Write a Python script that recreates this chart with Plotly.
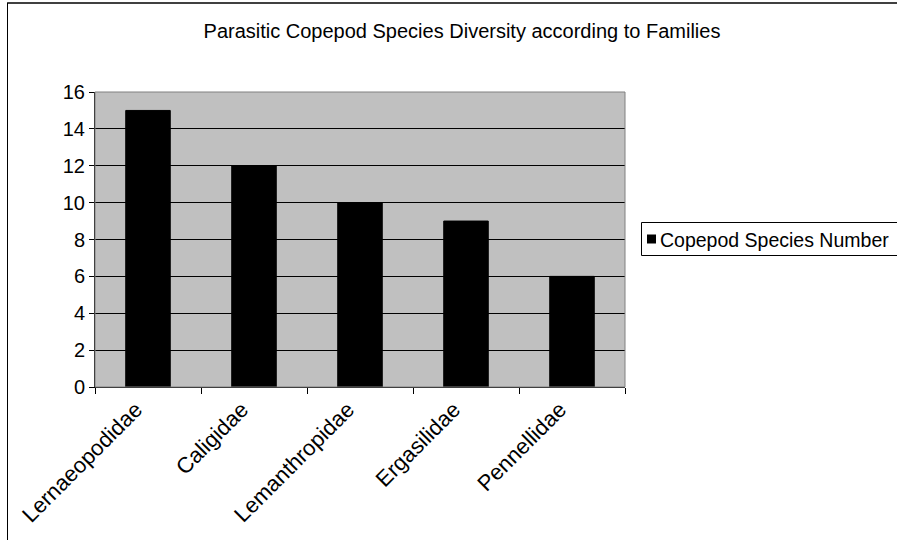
import plotly.graph_objects as go

families = ["Lernaeopodidae", "Caligidae", "Lemanthropidae", "Ergasilidae", "Pennellidae"]
species_counts = [15, 12, 10, 9, 6]
series_name = "Copepod Species Number"
title_text = "Parasitic Copepod Species Diversity according to Families"

W, H = 897, 540
L, R, T, B = 95, 625, 92, 387
pw, ph = R - L, B - T

def px_x(x):
    return (x - L) / pw

def px_y(y):
    return 1 - (y - T) / ph

FAM = "Liberation Sans, Arial, sans-serif"
FS = 20

fig = go.Figure()
fig.add_trace(go.Bar(
    x=families, y=species_counts, name=series_name,
    marker=dict(color="#000000", line=dict(color="#000000", width=1)),
    showlegend=False,
))

fig.update_layout(
    width=W, height=H,
    margin=dict(l=L, r=W - R, t=T, b=H - B, autoexpand=False),
    paper_bgcolor="#FFFFFF",
    plot_bgcolor="#C0C0C0",
    font=dict(family=FAM, size=FS, color="#000000"),
    bargap=0.58,
    title=dict(text=title_text, x=px_x(462), xref="paper", xanchor="center",
               y=1 - 31 / H, yref="container", yanchor="middle",
               font=dict(family=FAM, size=FS, color="#000000")),
    xaxis=dict(showgrid=False, showline=True, linecolor="#000000", linewidth=1,
               ticks="outside", tickson="boundaries", ticklen=6, tickcolor="#000000",
               tickangle=-45, zeroline=False, ticklabelshift=-12,
               tickfont=dict(family=FAM, size=22, color="#000000")),
    yaxis=dict(range=[0, 16], dtick=2, showgrid=True, gridcolor="#000000", gridwidth=1,
               showline=True, linecolor="#000000", linewidth=1,
               ticks="outside", ticklen=5, tickcolor="#000000", zeroline=False),
)

shapes = [
    # plot area frame
    dict(type="rect", xref="paper", yref="paper", x0=0, x1=1, y0=0, y1=1,
         line=dict(color="#808080", width=1), layer="above"),
    # outer chart border: left and top edges (right/bottom fall outside canvas)
    dict(type="line", xref="paper", yref="paper",
         x0=px_x(7.5), x1=px_x(7.5), y0=px_y(H + 5), y1=px_y(2.5),
         line=dict(color="#000000", width=1)),
    dict(type="line", xref="paper", yref="paper",
         x0=px_x(7.5), x1=px_x(W + 5), y0=px_y(3), y1=px_y(3),
         line=dict(color="#000000", width=1.5)),
    # legend box
    dict(type="rect", xref="paper", yref="paper",
         x0=px_x(641.5), x1=px_x(W + 20), y0=px_y(255.5), y1=px_y(222.5),
         line=dict(color="#000000", width=1), fillcolor="#FFFFFF"),
    # legend swatch
    dict(type="rect", xref="paper", yref="paper",
         x0=px_x(647), x1=px_x(656), y0=px_y(243.5), y1=px_y(234.5),
         line=dict(color="#000000", width=0), fillcolor="#000000"),
]
annotations = [
    dict(text=series_name, xref="paper", yref="paper", x=px_x(658), y=px_y(239.5),
         xanchor="left", yanchor="middle", showarrow=False,
         font=dict(family=FAM, size=19.5, color="#000000")),
]
fig.update_layout(shapes=shapes, annotations=annotations)

fig.write_html("out.html", config={"displayModeBar": False},
               post_script="document.body.style.margin='0';")
